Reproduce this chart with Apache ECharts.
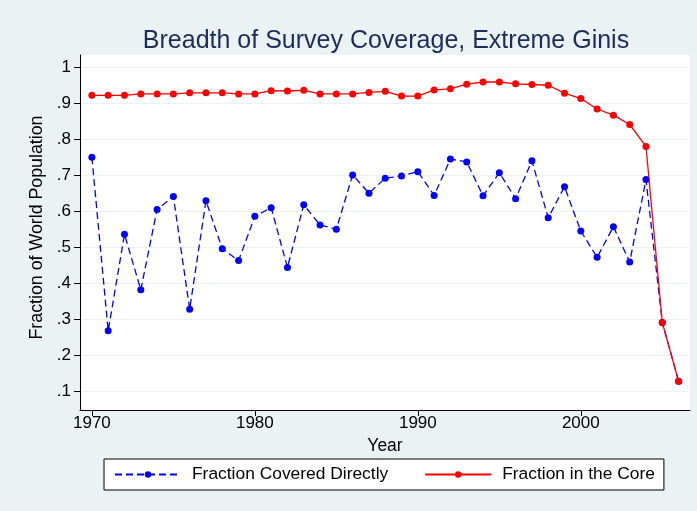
<!DOCTYPE html>
<html>
<head>
<meta charset="utf-8" />
<title>Breadth of Survey Coverage</title>
<script src="https://cdn.jsdelivr.net/npm/echarts@6/dist/echarts.min.js"></script>
<style>
  html, body { margin: 0; padding: 0; background: #eaf2f3; }
  #main { width: 697px; height: 511px; }
</style>
</head>
<body>
<div id="main"></div>
<script type="text/javascript">
var years = [1970, 1971, 1972, 1973, 1974, 1975, 1976, 1977, 1978, 1979,
             1980, 1981, 1982, 1983, 1984, 1985, 1986, 1987, 1988, 1989,
             1990, 1991, 1992, 1993, 1994, 1995, 1996, 1997, 1998, 1999,
             2000, 2001, 2002, 2003, 2004, 2005, 2006];
var covered = [0.749, 0.267, 0.535, 0.381, 0.604, 0.640, 0.327, 0.628, 0.495, 0.462,
               0.585, 0.609, 0.443, 0.617, 0.561, 0.549, 0.700, 0.649, 0.691, 0.697,
               0.709, 0.643, 0.744, 0.736, 0.642, 0.706, 0.634, 0.739, 0.581, 0.667,
               0.544, 0.471, 0.556, 0.458, 0.687, 0.290, 0.127];
var core = [0.921, 0.921, 0.921, 0.925, 0.925, 0.925, 0.928, 0.928, 0.928, 0.925,
            0.925, 0.934, 0.933, 0.935, 0.925, 0.925, 0.925, 0.929, 0.932, 0.919,
            0.919, 0.936, 0.939, 0.952, 0.958, 0.958, 0.953, 0.951, 0.949, 0.927,
            0.912, 0.883, 0.866, 0.840, 0.779, 0.290, 0.127];
var xTicks = [1970, 1980, 1990, 2000];
var yTicks = [0.1, 0.2, 0.3, 0.4, 0.5, 0.6, 0.7, 0.8, 0.9, 1];

function pairs(ys) {
  var out = [];
  for (var i = 0; i < years.length; i++) out.push([years[i], ys[i]]);
  return out;
}

var font = 'Liberation Sans, Arial, sans-serif';
var chart = echarts.init(document.getElementById('main'));
chart.setOption({
  backgroundColor: '#eaf2f3',
  animation: false,
  title: {
    text: 'Breadth of Survey Coverage, Extreme Ginis',
    left: 381, top: 24, textAlign: 'center',
    textStyle: { color: '#1c2d59', fontSize: 25, fontWeight: 'normal', fontFamily: font }
  },
  grid: {
    left: 80, right: 7, top: 55, bottom: 101,
    show: true, backgroundColor: '#ffffff', borderWidth: 0
  },
  legend: {
    data: ['Fraction Covered Directly', 'Fraction in the Core'],
    left: 104, top: 459,
    padding: [7, 9, 7, 10],
    itemWidth: 66, itemHeight: 8, itemGap: 36,
    borderColor: '#000', borderWidth: 1, backgroundColor: '#fff', borderRadius: 0,
    textStyle: { color: '#000', fontSize: 17.4, fontFamily: font, padding: [0, 0, 0, 6] }
  },
  xAxis: {
    type: 'value', min: 1969.27, max: 2006.7,
    name: 'Year', nameLocation: 'middle', nameGap: 18,
    nameTextStyle: { color: '#000', fontSize: 17.5, fontFamily: font },
    axisLine: { lineStyle: { color: '#000', width: 1 } },
    axisTick: { length: 6, lineStyle: { color: '#000' }, customValues: xTicks },
    axisLabel: {
      color: '#000', fontSize: 17, fontFamily: font, margin: 5, customValues: xTicks,
      formatter: function (v) { return '' + v; }
    },
    splitLine: { show: false }
  },
  yAxis: {
    type: 'value', min: 0.047, max: 1.033,
    name: 'Fraction of World Population', nameLocation: 'middle', nameGap: 30,
    nameTextStyle: { color: '#000', fontSize: 17.8, fontFamily: font, padding: [0, 0, 0, 10] },
    axisLine: { show: true, lineStyle: { color: '#000', width: 1 } },
    axisTick: { length: 6, lineStyle: { color: '#000' }, customValues: yTicks },
    axisLabel: {
      color: '#000', fontSize: 17, fontFamily: font, margin: 9, customValues: yTicks,
      formatter: function (v) { return v >= 1 ? '1' : ('' + Math.round(v * 10) / 10).replace('0.', '.'); }
    },
    splitLine: { show: true, lineStyle: { color: '#eaf2f3', width: 1 } }
  },
  series: [
    {
      name: 'Fraction Covered Directly', type: 'line', data: pairs(covered),
      color: '#0000ff', symbol: 'circle', symbolSize: 7,
      lineStyle: { color: '#0000ff', width: 1.3, type: [7, 4] },
      itemStyle: { color: '#0000ff' }
    },
    {
      name: 'Fraction in the Core', type: 'line', data: pairs(core),
      color: '#ff0000', symbol: 'circle', symbolSize: 7,
      lineStyle: { color: '#ff0000', width: 1.3 },
      itemStyle: { color: '#ff0000' }
    }
  ]
});
</script>
</body>
</html>
